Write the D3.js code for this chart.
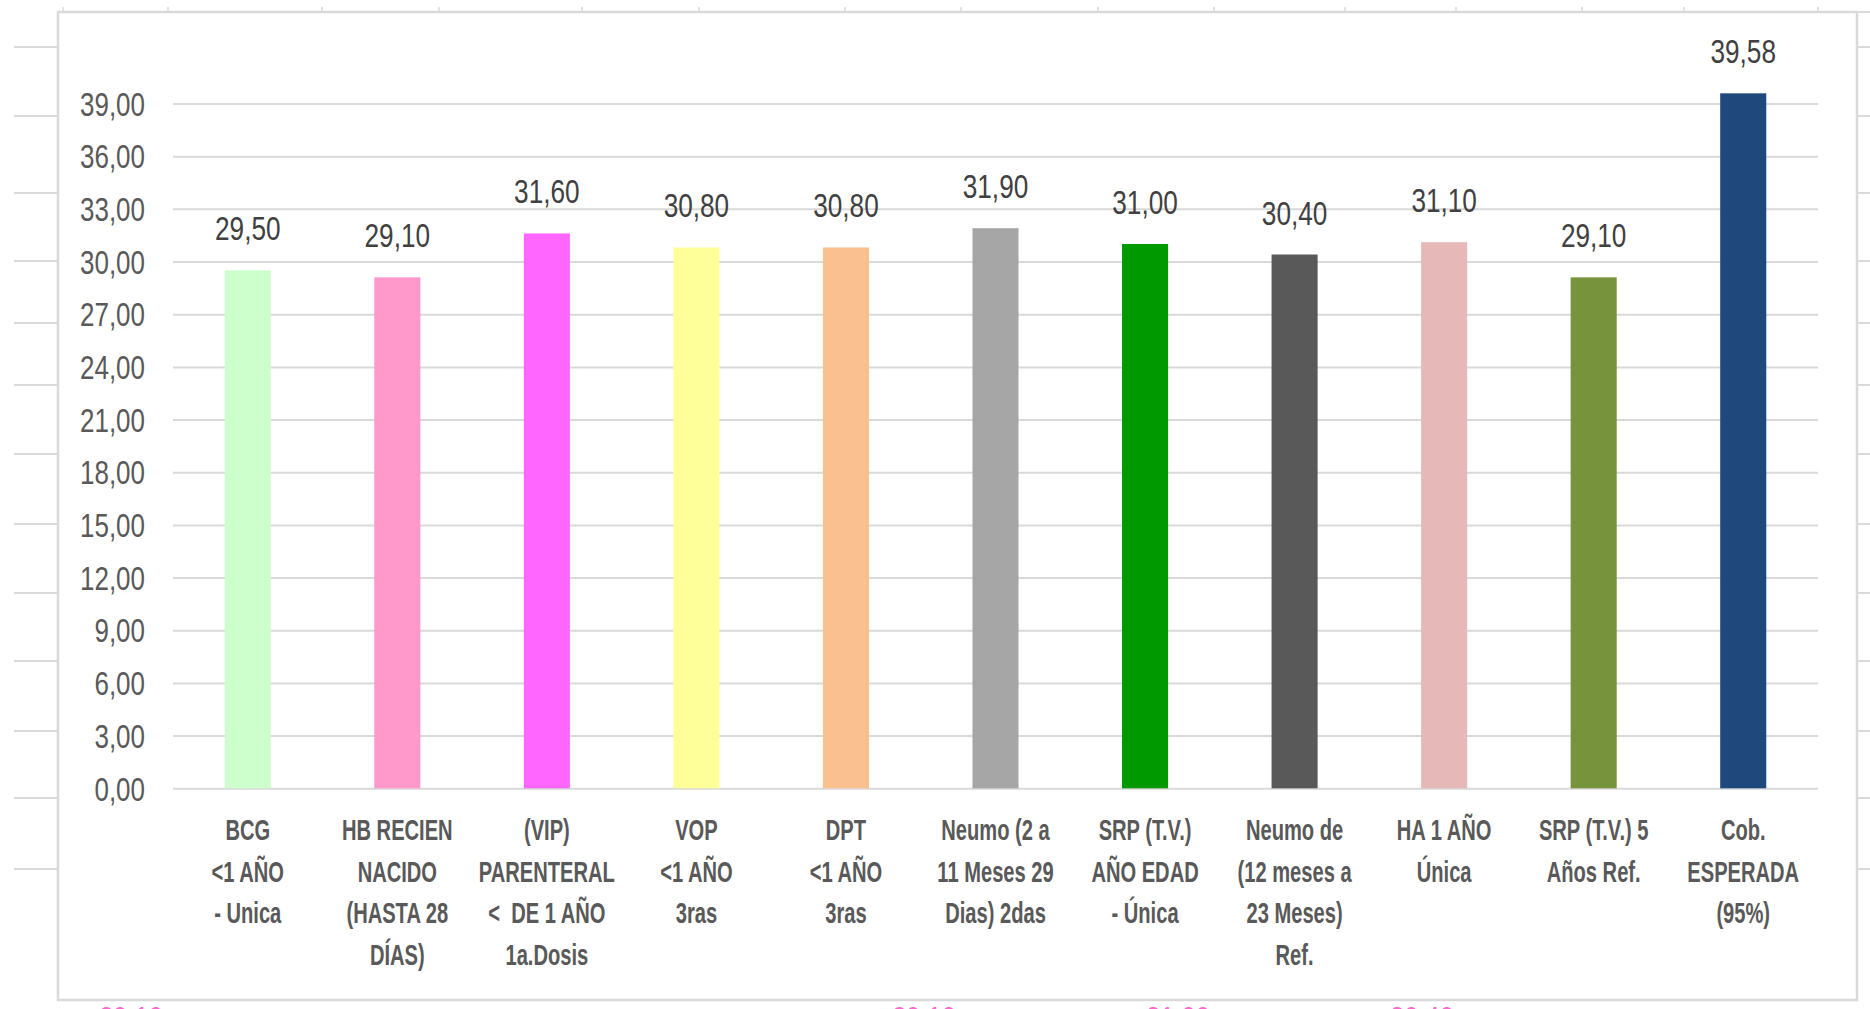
<!DOCTYPE html>
<html>
<head>
<meta charset="utf-8">
<script src="https://cdn.jsdelivr.net/npm/d3@7"></script>
<style>
  html, body { margin: 0; padding: 0; background: #ffffff; }
  svg { display: block; }
  text { font-family: "Liberation Sans Narrow", "Liberation Sans", Arial, sans-serif; }
  tspan { white-space: pre; }
</style>
</head>
<body>
<svg id="chart" width="1870" height="1009"></svg>
<script>
// Vaccine coverage by biologic, with the expected coverage bar at the end.
const categories = [
  ["BCG", "<1 AÑO", "- Unica"],
  ["HB RECIEN", "NACIDO", "(HASTA 28", "DÍAS)"],
  ["(VIP)", "PARENTERAL", "<  DE 1 AÑO", "1a.Dosis"],
  ["VOP", "<1 AÑO", "3ras"],
  ["DPT", "<1 AÑO", "3ras"],
  ["Neumo (2 a", "11 Meses 29", "Dias) 2das"],
  ["SRP (T.V.)", "AÑO EDAD", "- Única"],
  ["Neumo de", "(12 meses a", "23 Meses)", "Ref."],
  ["HA 1 AÑO", "Única"],
  ["SRP (T.V.) 5", "Años Ref."],
  ["Cob.", "ESPERADA", "(95%)"]
];
const coverage = [29.50, 29.10, 31.60, 30.80, 30.80, 31.90, 31.00, 30.40, 31.10, 29.10, 39.58];
const yTickValues = [0, 3, 6, 9, 12, 15, 18, 21, 24, 27, 30, 33, 36, 39];

const barColors = ["#ccffcc", "#ff99cc", "#ff66ff", "#ffff99", "#fac090", "#a6a6a6",
                   "#009900", "#595959", "#e6b9b8", "#77933c", "#1f497d"];

// Pieces of a neighbouring sheet chart that peek out around this one.
const backdropRows = [47, 116, 193, 261, 323, 385, 454, 524, 593, 661, 731, 798, 869];
const backdropTicks = [63, 168, 322, 439, 582, 699, 845, 961, 1098, 1214, 1345, 1456, 1582, 1684, 1818];
const backdropLabels = [{x: 131, t: "29,10"}, {x: 924, t: "29,10"}, {x: 1178, t: "31,00"}, {x: 1422, t: "30,40"}];

const fmt = d3.formatLocale({decimal: ",", thousands: ".", grouping: [3], currency: ["", "€"]}).format(".2f");

const svg = d3.select("#chart");
const W = 1870, H = 1009;
const frame = {x0: 58, y0: 12, x1: 1857, y1: 1000};
const plot = {left: 173, right: 1818, top: 103.5, bottom: 788.3};

// --- backdrop ---
const back = svg.append("g");
back.selectAll("line.row").data(backdropRows).join("line")
  .attr("x1", 14).attr("x2", W).attr("y1", d => d).attr("y2", d => d)
  .attr("stroke", "#d9d9d9").attr("stroke-width", 2);
back.append("line").attr("x1", frame.x0).attr("x2", W).attr("y1", frame.y0).attr("y2", frame.y0)
  .attr("stroke", "#d9d9d9").attr("stroke-width", 2);
back.selectAll("line.tick").data(backdropTicks).join("line")
  .attr("x1", d => d).attr("x2", d => d).attr("y1", 7).attr("y2", frame.y0)
  .attr("stroke", "#d9d9d9").attr("stroke-width", 1.5);
back.selectAll("text").data(backdropLabels).join("text")
  .attr("x", d => d.x).attr("y", 1029).attr("text-anchor", "middle")
  .attr("font-size", 32).attr("fill", "#ff66cc").text(d => d.t);

// --- chart area ---
svg.append("rect")
  .attr("x", frame.x0).attr("y", frame.y0)
  .attr("width", frame.x1 - frame.x0).attr("height", frame.y1 - frame.y0)
  .attr("fill", "#ffffff").attr("stroke", "#d9d9d9").attr("stroke-width", 2.5);

const x = d3.scaleBand()
  .domain(d3.range(categories.length))
  .range([plot.left, plot.right])
  .paddingInner(0.692).paddingOuter(0.346);

const y = d3.scaleLinear().domain([0, 39]).range([plot.bottom, plot.top]);

// gridlines + tick labels
const yAxis = d3.axisLeft(y)
  .tickValues(yTickValues)
  .tickSize(-(plot.right - plot.left))
  .tickPadding(28)
  .tickFormat(fmt);

const gy = svg.append("g").attr("transform", `translate(${plot.left},0)`).call(yAxis);
gy.select(".domain").remove();
gy.selectAll(".tick line").attr("stroke", "#d9d9d9").attr("stroke-width", 2);
gy.selectAll(".tick text")
  .attr("font-size", 32.5).attr("fill", "#595959").attr("dy", "0.36em");

// bars
svg.append("g").selectAll("rect").data(coverage).join("rect")
  .attr("x", (d, i) => x(i))
  .attr("width", x.bandwidth())
  .attr("y", d => y(d))
  .attr("height", d => y(0) - y(d))
  .attr("fill", (d, i) => barColors[i]);

// value labels
const vals = svg.append("g").selectAll("text").data(coverage).join("text")
  .attr("x", (d, i) => x(i) + x.bandwidth() / 2)
  .attr("y", d => y(d) - 30)
  .attr("text-anchor", "middle")
  .attr("font-size", 33).attr("fill", "#404040")
  .text(d => fmt(d));

// category labels
const cats = svg.append("g").selectAll("text").data(categories).join("text")
  .attr("text-anchor", "middle")
  .attr("font-size", 30).attr("font-weight", "bold").attr("fill", "#595959");
cats.selectAll("tspan").data((d, i) => d.map(t => ({t, i}))).join("tspan")
  .attr("x", d => x(d.i) + x.bandwidth() / 2)
  .attr("y", (d, j) => 840 + j * 41.5)
  .text(d => d.t);

// condense glyphs to a narrow face
function measure(size, weight, str) {
  const t = svg.append("text").attr("font-size", size).attr("font-weight", weight).text(str);
  const w = t.node().getComputedTextLength();
  t.remove();
  return w;
}
function squeeze(sel, k) {
  sel.each(function () {
    const w = this.getComputedTextLength();
    d3.select(this).attr("textLength", w * k).attr("lengthAdjust", "spacingAndGlyphs");
  });
}
const kTick = 65 / measure(32.5, "normal", "39,00");
const kVal = 65.5 / measure(33, "normal", "39,58");
const kCat = 136 / measure(30, "bold", "PARENTERAL");
squeeze(gy.selectAll(".tick text"), kTick);
squeeze(vals, kVal);
squeeze(cats.selectAll("tspan"), kCat);
squeeze(back.selectAll("text"), kVal);
</script>
</body>
</html>
